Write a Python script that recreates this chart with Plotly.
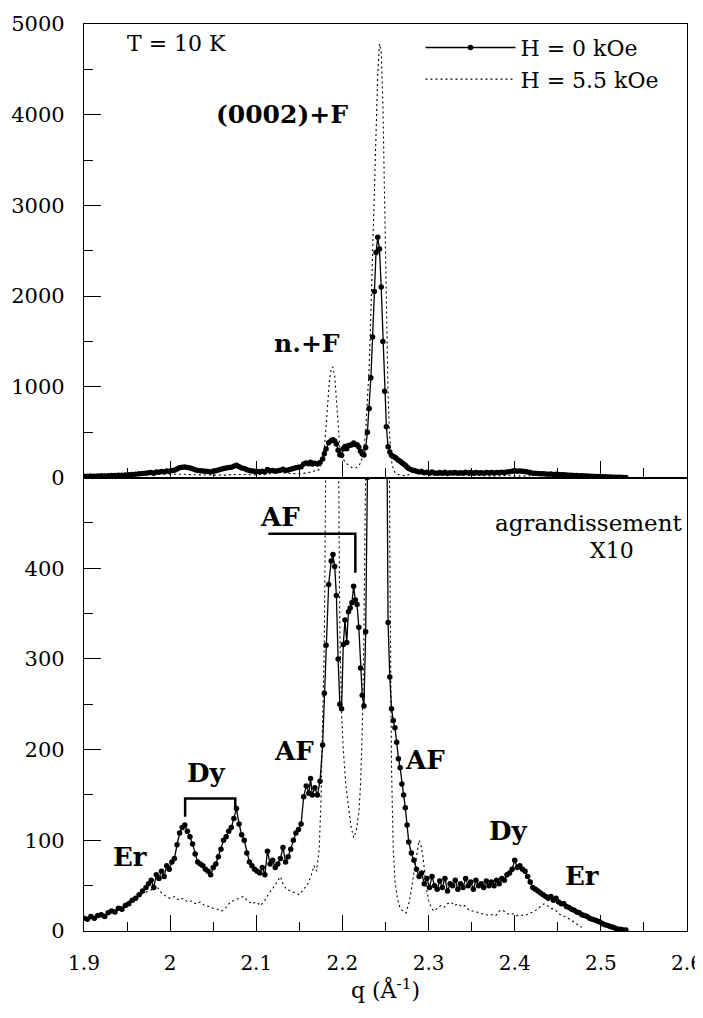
import plotly.graph_objects as go

# ---------------- data ----------------
q_h0 = [1.900, 1.904, 1.908, 1.912, 1.916, 1.920, 1.924, 1.928, 1.932, 1.936,
        1.940, 1.944, 1.948, 1.952, 1.956, 1.960, 1.964, 1.968, 1.972, 1.975,
        1.978, 1.981, 1.984, 1.987, 1.990, 1.993, 1.996, 1.999, 2.002, 2.005,
        2.008, 2.011, 2.014, 2.017, 2.020, 2.023, 2.026, 2.029, 2.032, 2.035,
        2.038, 2.041, 2.044, 2.047, 2.050, 2.053, 2.056, 2.059, 2.062, 2.065,
        2.068, 2.071, 2.074, 2.077, 2.080, 2.083, 2.086, 2.089, 2.092, 2.095,
        2.098, 2.101, 2.104, 2.107, 2.110, 2.113, 2.116, 2.119, 2.122, 2.125,
        2.128, 2.131, 2.134, 2.137, 2.140, 2.143, 2.146, 2.149, 2.152, 2.155,
        2.158, 2.161, 2.163, 2.165, 2.168, 2.171, 2.174, 2.177, 2.179, 2.181,
        2.184, 2.187, 2.189, 2.191, 2.193, 2.195, 2.197, 2.199, 2.201, 2.203,
        2.205, 2.207, 2.209, 2.211, 2.213, 2.215, 2.217, 2.219, 2.221, 2.223,
        2.225, 2.227, 2.229, 2.231, 2.233, 2.235, 2.237, 2.239, 2.241, 2.243,
        2.245, 2.247, 2.249, 2.251, 2.253, 2.255, 2.257, 2.259, 2.261, 2.263,
        2.265, 2.267, 2.269, 2.271, 2.273, 2.275, 2.277, 2.280, 2.283, 2.286,
        2.289, 2.292, 2.295, 2.298, 2.301, 2.304, 2.307, 2.310, 2.313, 2.316,
        2.319, 2.322, 2.325, 2.328, 2.331, 2.334, 2.337, 2.340, 2.343, 2.346,
        2.349, 2.352, 2.355, 2.358, 2.361, 2.364, 2.367, 2.370, 2.373, 2.376,
        2.379, 2.382, 2.385, 2.388, 2.391, 2.394, 2.397, 2.400, 2.403, 2.406,
        2.409, 2.412, 2.415, 2.418, 2.421, 2.424, 2.427, 2.430, 2.433, 2.436,
        2.439, 2.442, 2.445, 2.448, 2.451, 2.454, 2.457, 2.460, 2.463, 2.466,
        2.469, 2.472, 2.475, 2.478, 2.481, 2.484, 2.487, 2.490, 2.493, 2.496,
        2.499, 2.502, 2.505, 2.508, 2.511, 2.514, 2.517, 2.520, 2.523, 2.526,
        2.529]
i_h0 = [14, 13, 16, 14, 17, 18, 16, 20, 22, 21,
        25, 24, 28, 30, 34, 36, 40, 44, 48, 52,
        56, 48, 62, 58, 66, 60, 72, 68, 76, 80,
        95, 108, 114, 117, 110, 104, 96, 85, 76, 74,
        72, 68, 66, 62, 70, 74, 82, 90, 100, 104,
        110, 114, 124, 135, 118, 106, 100, 86, 76, 72,
        68, 66, 64, 70, 62, 88, 74, 78, 70, 74,
        80, 92, 76, 82, 90, 100, 108, 112, 118, 148,
        160, 152, 168, 150, 158, 150, 165, 205, 262, 315,
        382, 408, 415, 402, 370, 300, 250, 245, 316, 343,
        318, 352, 356, 362, 380, 365, 360, 335, 290, 260,
        248, 330, 500, 760, 1100, 1550, 2050, 2480, 2650, 2520,
        2100, 1500, 950, 560, 340, 280, 245, 232, 224, 208,
        190, 180, 162, 150, 136, 117, 98, 86, 78, 68,
        60, 64, 52, 58, 48, 60, 50, 46, 55, 48,
        58, 44, 52, 50, 56, 46, 52, 48, 58, 50,
        54, 46, 56, 50, 52, 48, 55, 50, 54, 50,
        56, 52, 58, 56, 62, 64, 68, 78, 70, 72,
        68, 66, 60, 54, 48, 46, 44, 42, 40, 38,
        36, 38, 34, 36, 32, 30, 30, 27, 26, 24,
        23, 21, 20, 18, 17, 16, 14, 13, 12, 11,
        10, 8, 7, 6, 5, 4, 3, 2, 2, 1,
        1]

q_h55 = [1.900, 1.905, 1.910, 1.915, 1.920, 1.925, 1.930, 1.935, 1.940, 1.945,
         1.950, 1.955, 1.960, 1.965, 1.970, 1.975, 1.980, 1.984, 1.988, 1.992,
         1.996, 2.000, 2.005, 2.010, 2.015, 2.020, 2.025, 2.030, 2.035, 2.040,
         2.045, 2.050, 2.055, 2.060, 2.065, 2.070, 2.075, 2.080, 2.085, 2.090,
         2.095, 2.100, 2.105, 2.110, 2.115, 2.120, 2.125, 2.128, 2.131, 2.135,
         2.140, 2.145, 2.150, 2.155, 2.160, 2.164, 2.167, 2.170, 2.173, 2.175,
         2.177, 2.179, 2.181, 2.183, 2.185, 2.187, 2.189, 2.191, 2.193, 2.195,
         2.197, 2.199, 2.201, 2.204, 2.207, 2.210, 2.213, 2.216, 2.219, 2.221,
         2.223, 2.225, 2.227, 2.229, 2.231, 2.233, 2.235, 2.237, 2.239, 2.241,
         2.243, 2.245, 2.247, 2.249, 2.251, 2.253, 2.255, 2.257, 2.259, 2.261,
         2.264, 2.267, 2.270, 2.274, 2.277, 2.280, 2.283, 2.286, 2.289, 2.291,
         2.294, 2.297, 2.300, 2.303, 2.306, 2.310, 2.314, 2.318, 2.322, 2.326,
         2.330, 2.334, 2.338, 2.342, 2.346, 2.350, 2.354, 2.358, 2.362, 2.366,
         2.370, 2.374, 2.378, 2.382, 2.386, 2.390, 2.394, 2.398, 2.402, 2.406,
         2.410, 2.414, 2.418, 2.422, 2.426, 2.430, 2.434, 2.438, 2.442, 2.446,
         2.450, 2.454, 2.458, 2.462, 2.466, 2.470, 2.474, 2.478]
i_h55 = [12, 14, 13, 16, 15, 18, 20, 22, 25, 28,
         32, 35, 38, 40, 42, 44, 46, 50, 44, 40,
         38, 36, 38, 34, 36, 32, 33, 30, 32, 28,
         27, 25, 24, 22, 26, 32, 34, 36, 38, 33,
         30, 32, 28, 34, 42, 48, 56, 60, 52, 46,
         44, 42, 40, 46, 52, 62, 72, 66, 90, 140,
         220, 320, 560, 850, 1080, 1200, 1220, 1120, 850, 560,
         330, 240, 200, 160, 135, 115, 103, 110, 130, 160,
         220, 330, 520, 800, 1200, 1800, 2500, 3200, 3900, 4450,
         4780, 4700, 4100, 3000, 1800, 900, 420, 180, 90, 55,
         35, 25, 22, 20, 30, 45, 65, 85, 100, 96,
         78, 50, 34, 26, 22, 25, 28, 26, 30, 32,
         28, 30, 27, 28, 24, 22, 22, 20, 19, 18,
         17, 18, 17, 22, 23, 20, 18, 19, 17, 18,
         17, 18, 20, 21, 24, 28, 30, 28, 25, 24,
         20, 17, 16, 14, 12, 9, 6, 4]

x_tickvals = [1.9, 2.0, 2.1, 2.2, 2.3, 2.4, 2.5, 2.6]
x_ticktext = ["1.9", "2", "2.1", "2.2", "2.3", "2.4", "2.5", "2.6"]
top_tickvals = [0, 1000, 2000, 3000, 4000, 5000]
bottom_tickvals = [0, 100, 200, 300, 400]
series_names = ["H = 0 kOe", "H = 5.5 kOe"]

FONT = "DejaVu Serif, Liberation Serif, Times New Roman, serif"
INK = "black"

fig = go.Figure()
# bottom panel (x10 enlargement) and top panel, same data
for xa, ya, show in [("x", "y", True), ("x2", "y2", False)]:
    fig.add_trace(go.Scatter(
        x=q_h0, y=i_h0, xaxis=xa, yaxis=ya, mode="lines+markers",
        name=series_names[0], legendgroup="h0", showlegend=show,
        line=dict(color=INK, width=1.3),
        marker=dict(size=5.5, color=INK)))
    fig.add_trace(go.Scatter(
        x=q_h55, y=i_h55, xaxis=xa, yaxis=ya, mode="lines",
        name=series_names[1], legendgroup="h55", showlegend=show,
        line=dict(color=INK, width=1.1, dash="2px,3px")))

common = dict(showline=True, linecolor=INK, linewidth=1.3, mirror=True,
              showgrid=False, zeroline=False, ticks="inside", tickcolor=INK,
              tickwidth=1.3, automargin=False)

# the page adds an 8 px body margin, so the figure is 8 px smaller
fig.update_layout(
    width=695, height=1010,
    margin=dict(l=76, r=16, t=16, b=87),
    paper_bgcolor="white", plot_bgcolor="white",
    font=dict(family=FONT, size=21, color=INK),
    showlegend=True,
    legend=dict(x=0.558, y=0.997, xanchor="left", yanchor="top",
                bgcolor="rgba(0,0,0,0)", itemwidth=90, tracegroupgap=0,
                font=dict(family=FONT, size=22, color=INK)),
    xaxis=dict(domain=[0, 1], range=[1.9, 2.6], anchor="y",
               tickmode="array", tickvals=x_tickvals, ticktext=x_ticktext,
               ticklen=16, ticklabelstandoff=14,
               tickfont=dict(family=FONT, size=20),
               minor=dict(tick0=1.9, dtick=0.05, ticklen=9, ticks="inside",
                          tickcolor=INK, tickwidth=1.3),
               title=dict(text="q (Å<sup>-1</sup>)", standoff=8,
                          font=dict(family=FONT, size=22)),
               **common),
    xaxis2=dict(domain=[0, 1], range=[1.9, 2.6], anchor="y2", matches="x",
                tickmode="array", tickvals=x_tickvals, showticklabels=False,
                ticklen=16,
                minor=dict(tick0=1.9, dtick=0.05, ticklen=9, ticks="inside",
                           tickcolor=INK, tickwidth=1.3),
                **common),
    yaxis=dict(domain=[0, 0.5], range=[0, 500], anchor="x",
               tickmode="array", tickvals=bottom_tickvals, ticklen=17,
               ticklabelstandoff=14, tickfont=dict(family=FONT, size=21),
               minor=dict(tick0=0, dtick=50, ticklen=9, ticks="inside",
                          tickcolor=INK, tickwidth=1.3),
               **common),
    yaxis2=dict(domain=[0.5, 1], range=[0, 5000], anchor="x2",
                tickmode="array", tickvals=top_tickvals, ticklen=17,
                ticklabelstandoff=14, tickfont=dict(family=FONT, size=21),
                minor=dict(tick0=0, dtick=500, ticklen=9, ticks="inside",
                           tickcolor=INK, tickwidth=1.3),
                **common),
)

def note(text, x, y, xref, yref, size=22, bold=False, xanchor="center"):
    t = f"<b>{text}</b>" if bold else text
    fig.add_annotation(text=t, x=x, y=y, xref=xref, yref=yref, showarrow=False,
                       xanchor=xanchor, yanchor="middle",
                       font=dict(family=FONT, size=size, color=INK))

# top panel
note("T = 10 K", 1.948, 4785, "x2", "y2", xanchor="left")
note("(0002)+F", 2.209, 4000, "x2", "y2", size=25, bold=True, xanchor="right")
note("n.+F", 2.159, 1480, "x2", "y2", size=25, bold=True)
# bottom panel
note("AF", 2.127, 456, "x", "y", size=26, bold=True)
note("agrandissement", 2.597, 450, "x", "y", size=23, xanchor="right")
note("X10", 2.513, 420, "x", "y")
note("AF", 2.144, 199, "x", "y", size=26, bold=True)
note("Dy", 2.042, 174, "x", "y", size=26, bold=True)
note("Er", 1.953, 82, "x", "y", size=26, bold=True)
note("AF", 2.296, 189, "x", "y", size=26, bold=True)
note("Dy", 2.393, 110, "x", "y", size=26, bold=True)
note("Er", 2.478, 61, "x", "y", size=26, bold=True)

# brackets grouping the AF and Dy reflections
fig.add_shape(type="path", xref="x", yref="y",
              path="M 2.114,438 L 2.215,438 L 2.215,395",
              line=dict(color=INK, width=2.5))
fig.add_shape(type="path", xref="x", yref="y",
              path="M 2.0174,126 L 2.0174,146 L 2.0756,146 L 2.0756,136",
              line=dict(color=INK, width=2.5))

fig.write_html("out.html")
